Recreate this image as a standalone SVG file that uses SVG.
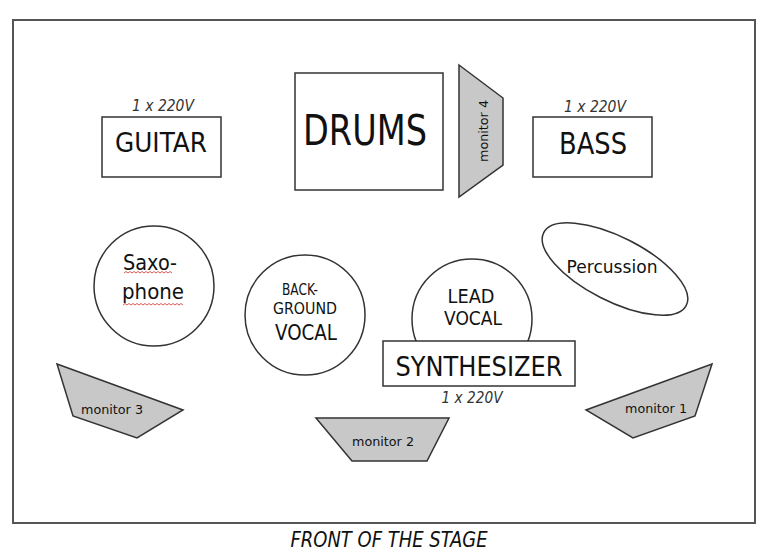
<svg xmlns="http://www.w3.org/2000/svg" width="770" height="553" viewBox="0 0 770 553">
<style>
text{font-family:"DejaVu Sans","Liberation Sans",sans-serif;fill:#111;text-anchor:middle}
.box{fill:#fff;stroke:#333;stroke-width:1.5}
.mon{fill:#c8c8c8;stroke:#333;stroke-width:1.5;stroke-linejoin:miter}
.it{font-style:italic;fill:#333}
.sq{fill:none;stroke:#d03030;stroke-width:0.8}
</style>
<rect width="770" height="553" fill="#fff"/>
<g id="stage"><rect x="13" y="20" width="742" height="503" fill="none" stroke="#555" stroke-width="2"/></g>
<g id="guitar">
<text class="it" x="163" y="111" font-size="15" textLength="62" lengthAdjust="spacingAndGlyphs">1 x 220V</text>
<rect class="box" x="102" y="117" width="119" height="60"/>
<text x="161" y="152" font-size="27" textLength="92" lengthAdjust="spacingAndGlyphs">GUITAR</text>
</g>
<g id="drums">
<rect class="box" x="295" y="73" width="148" height="117"/>
<text x="365" y="145" font-size="43" textLength="124" lengthAdjust="spacingAndGlyphs">DRUMS</text>
</g>
<g id="monitor4">
<polygon class="mon" points="459,65 503,98 503,165 459,197"/>
<text transform="translate(488,131) rotate(-90)" font-size="13" textLength="62" lengthAdjust="spacingAndGlyphs">monitor 4</text>
</g>
<g id="bass">
<text class="it" x="595" y="112" font-size="15" textLength="62" lengthAdjust="spacingAndGlyphs">1 x 220V</text>
<rect class="box" x="533" y="117" width="119" height="60"/>
<text x="593" y="154" font-size="30" textLength="68" lengthAdjust="spacingAndGlyphs">BASS</text>
</g>
<g id="saxophone">
<circle class="box" cx="154" cy="286" r="60"/>
<text x="150" y="270" font-size="21" textLength="54" lengthAdjust="spacingAndGlyphs">Saxo-</text>
<text x="153" y="299" font-size="21" textLength="62" lengthAdjust="spacingAndGlyphs">phone</text>
<path class="sq" d="M124,273 l2,-1.5 2,1.5 2,-1.5 2,1.5 2,-1.5 2,1.5 2,-1.5 2,1.5 2,-1.5 2,1.5 2,-1.5 2,1.5 2,-1.5 2,1.5 2,-1.5 2,1.5 2,-1.5 2,1.5 2,-1.5 2,1.5 2,-1.5 2,1.5 2,-1.5 2,1.5"/>
<path class="sq" d="M123,305 l2,-1.5 2,1.5 2,-1.5 2,1.5 2,-1.5 2,1.5 2,-1.5 2,1.5 2,-1.5 2,1.5 2,-1.5 2,1.5 2,-1.5 2,1.5 2,-1.5 2,1.5 2,-1.5 2,1.5 2,-1.5 2,1.5 2,-1.5 2,1.5 2,-1.5 2,1.5 2,-1.5 2,1.5 2,-1.5 2,1.5 2,-1.5 2,1.5"/>
</g>
<g id="background-vocal">
<circle class="box" cx="305" cy="315" r="60"/>
<text x="300" y="295" font-size="16" textLength="36" lengthAdjust="spacingAndGlyphs">BACK-</text>
<text x="305" y="314" font-size="16" textLength="64" lengthAdjust="spacingAndGlyphs">GROUND</text>
<text x="306" y="340" font-size="21" textLength="62" lengthAdjust="spacingAndGlyphs">VOCAL</text>
</g>
<g id="percussion">
<ellipse class="box" cx="615" cy="269" rx="80" ry="32" transform="rotate(27 615 269)"/>
<text x="612" y="273" font-size="17" textLength="91" lengthAdjust="spacingAndGlyphs">Percussion</text>
</g>
<g id="lead-vocal">
<circle class="box" cx="472" cy="319" r="60"/>
<text x="471" y="303" font-size="20" textLength="47" lengthAdjust="spacingAndGlyphs">LEAD</text>
<text x="473" y="325" font-size="20" textLength="58" lengthAdjust="spacingAndGlyphs">VOCAL</text>
</g>
<g id="synthesizer">
<rect class="box" x="383" y="341" width="192" height="45"/>
<text x="479" y="376" font-size="27" textLength="167" lengthAdjust="spacingAndGlyphs">SYNTHESIZER</text>
<text class="it" x="472" y="403" font-size="15" textLength="61" lengthAdjust="spacingAndGlyphs">1 x 220V</text>
</g>
<g id="monitor3">
<polygon class="mon" points="57,364 183,410 137,438 73,416"/>
<text x="112" y="414" font-size="13" textLength="62" lengthAdjust="spacingAndGlyphs">monitor 3</text>
</g>
<g id="monitor2">
<polygon class="mon" points="316,418 449,418 427,461 352,461"/>
<text x="383" y="446" font-size="13" textLength="62" lengthAdjust="spacingAndGlyphs">monitor 2</text>
</g>
<g id="monitor1">
<polygon class="mon" points="712,364 695,416 633,438 586,410"/>
<text x="656" y="413" font-size="13" textLength="62" lengthAdjust="spacingAndGlyphs">monitor 1</text>
</g>
<g id="front">
<text x="389" y="547" font-size="21" font-style="italic" textLength="197" lengthAdjust="spacingAndGlyphs">FRONT OF THE STAGE</text>
</g>
<g id="connectors"></g>
</svg>
